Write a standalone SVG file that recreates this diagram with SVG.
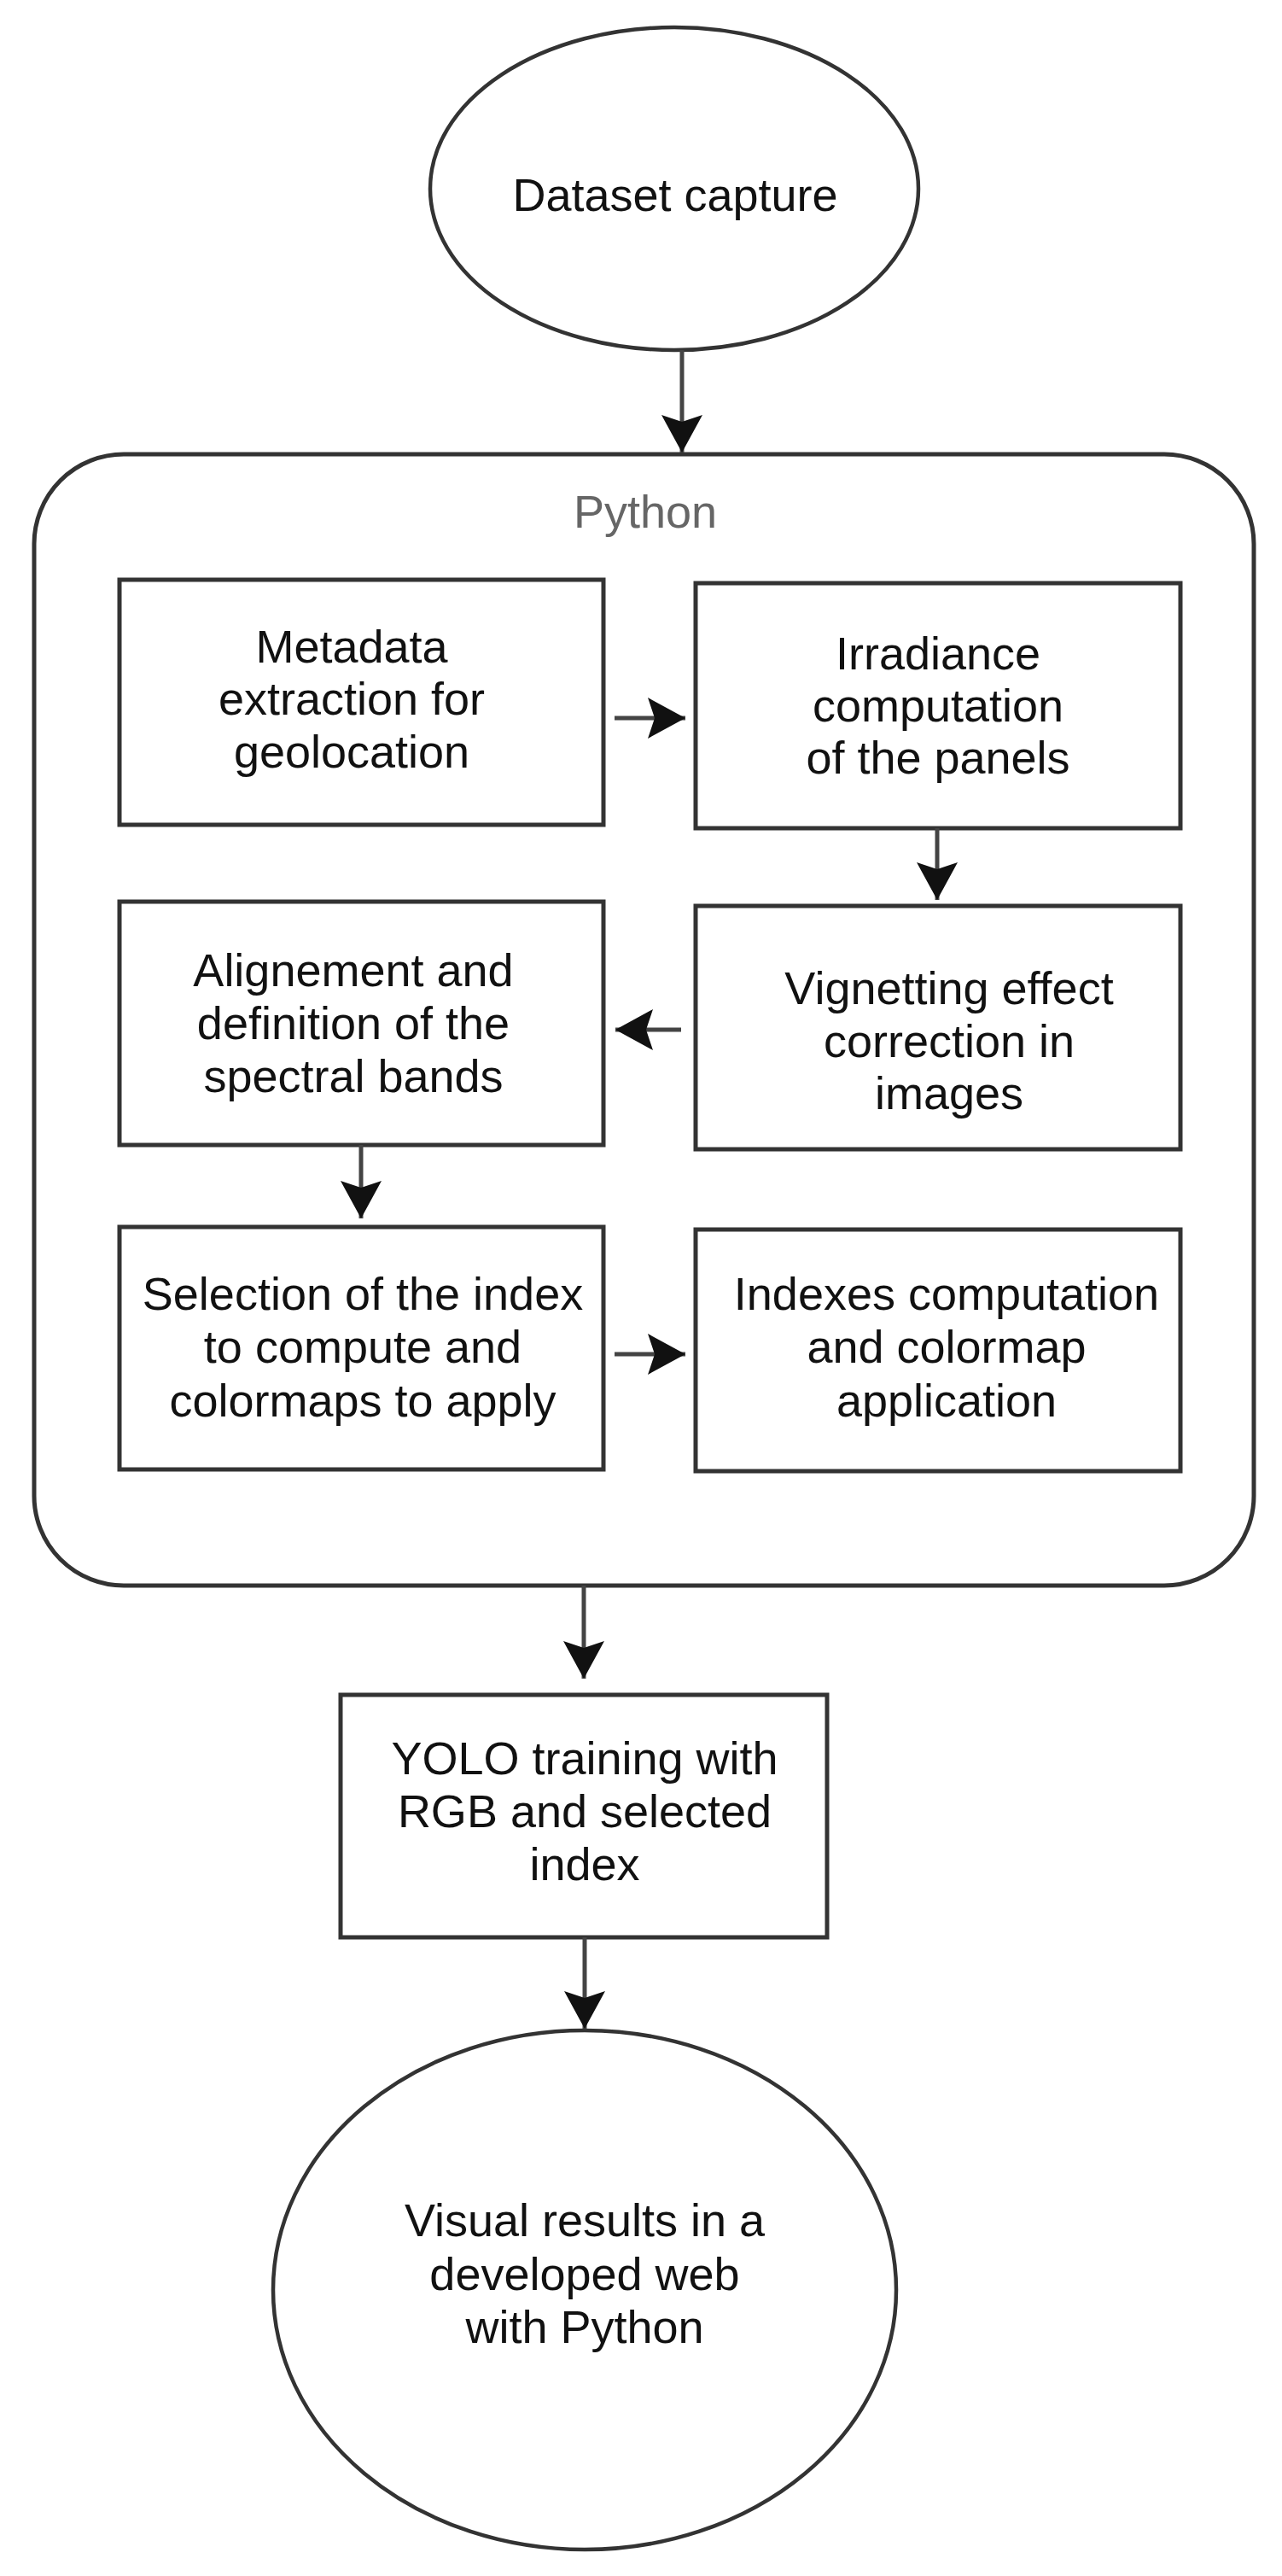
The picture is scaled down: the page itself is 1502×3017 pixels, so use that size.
<svg xmlns="http://www.w3.org/2000/svg" width="1502" height="3017" viewBox="0 0 1502 3017">
<style>
.shape{fill:#fff;stroke:#333;stroke-width:5}
.ell{fill:#fff;stroke:#333;stroke-width:4.5}
.cont{fill:none;stroke:#333;stroke-width:5}
.t{font-family:"Liberation Sans",Arial,sans-serif;font-size:54px;fill:#111;text-anchor:middle}
.tg{font-family:"Liberation Sans",Arial,sans-serif;font-size:54px;fill:#666;text-anchor:middle}
.con{fill:none;stroke:#444;stroke-width:5}
</style>
<defs>
<marker id="ah" markerUnits="userSpaceOnUse" viewBox="0 0 44 48" refX="44" refY="24" markerWidth="44" markerHeight="48" orient="auto">
<path d="M0,0 L44,24 L0,48 L8,24 Z" fill="#111"/>
</marker>
</defs>
<rect width="1502" height="3017" fill="#fff"/>
<g id="python-container">
<rect class="cont" x="40" y="532" width="1429" height="1325" rx="105" ry="105"/>
<text class="tg" x="756" y="618">Python</text>
</g>
<g id="dataset-capture">
<ellipse class="ell" cx="790" cy="221" rx="286" ry="189"/>
<text class="t" x="791" y="247">Dataset capture</text>
</g>
<g id="metadata">
<rect class="shape" x="140" y="679" width="567" height="287"/>
<text class="t" x="412" y="776">Metadata</text>
<text class="t" x="412" y="837">extraction for</text>
<text class="t" x="412" y="899">geolocation</text>
</g>
<g id="irradiance">
<rect class="shape" x="815" y="683" width="568" height="287"/>
<text class="t" x="1099" y="784">Irradiance</text>
<text class="t" x="1099" y="845">computation</text>
<text class="t" x="1099" y="906">of the panels</text>
</g>
<g id="alignement">
<rect class="shape" x="140" y="1056" width="567" height="285"/>
<text class="t" x="414" y="1155">Alignement and</text>
<text class="t" x="414" y="1217">definition of the</text>
<text class="t" x="414" y="1279">spectral bands</text>
</g>
<g id="vignetting">
<rect class="shape" x="815" y="1061" width="568" height="285"/>
<text class="t" x="1112" y="1176">Vignetting effect</text>
<text class="t" x="1112" y="1238">correction in</text>
<text class="t" x="1112" y="1299">images</text>
</g>
<g id="selection">
<rect class="shape" x="140" y="1437" width="567" height="284"/>
<text class="t" x="425" y="1534">Selection of the index</text>
<text class="t" x="425" y="1596">to compute and</text>
<text class="t" x="425" y="1659">colormaps to apply</text>
</g>
<g id="indexes">
<rect class="shape" x="815" y="1440" width="568" height="283"/>
<text class="t" x="1109" y="1534">Indexes computation</text>
<text class="t" x="1109" y="1596">and colormap</text>
<text class="t" x="1109" y="1659">application</text>
</g>
<g id="yolo">
<rect class="shape" x="399" y="1985" width="570" height="284"/>
<text class="t" x="685" y="2078">YOLO training with</text>
<text class="t" x="685" y="2140">RGB and selected</text>
<text class="t" x="685" y="2202">index</text>
</g>
<g id="visual-results">
<ellipse class="ell" cx="685" cy="2682" rx="365" ry="304"/>
<text class="t" x="685" y="2619">Visual results in a</text>
<text class="t" x="685" y="2682">developed web</text>
<text class="t" x="685" y="2744">with Python</text>
</g>
<g id="connectors">
<line class="con" x1="799" y1="410" x2="799" y2="530" marker-end="url(#ah)"/>
<line class="con" x1="720" y1="841" x2="803" y2="841" marker-end="url(#ah)"/>
<line class="con" x1="1098" y1="970" x2="1098" y2="1054" marker-end="url(#ah)"/>
<line class="con" x1="798" y1="1206" x2="721" y2="1206" marker-end="url(#ah)"/>
<line class="con" x1="423" y1="1341" x2="423" y2="1427" marker-end="url(#ah)"/>
<line class="con" x1="720" y1="1586" x2="803" y2="1586" marker-end="url(#ah)"/>
<line class="con" x1="684" y1="1857" x2="684" y2="1966" marker-end="url(#ah)"/>
<line class="con" x1="685" y1="2269" x2="685" y2="2376" marker-end="url(#ah)"/>
</g>
</svg>
